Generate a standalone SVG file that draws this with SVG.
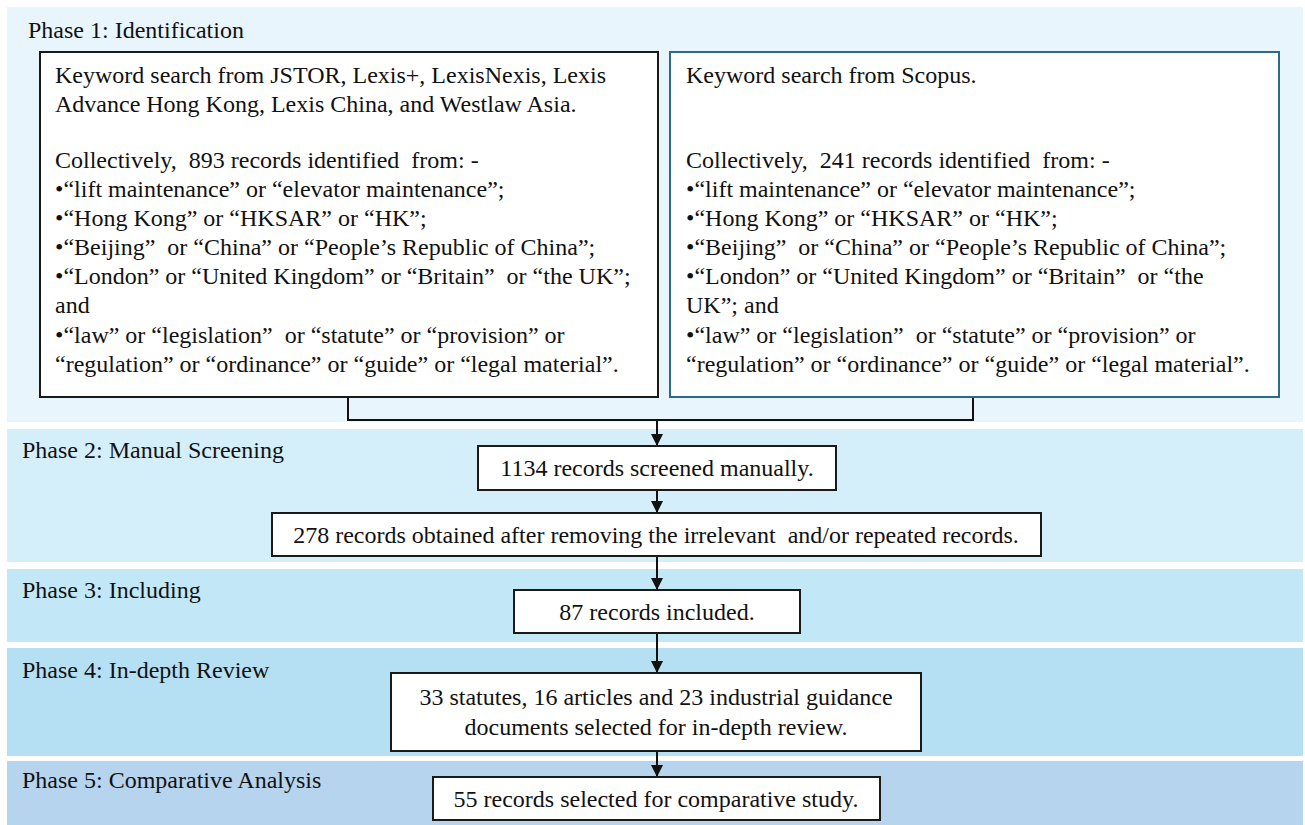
<svg xmlns="http://www.w3.org/2000/svg" width="1305" height="825" viewBox="0 0 1305 825">
  <style>
    text { font-family: "Liberation Serif", "DejaVu Serif", "Noto Serif", serif; font-size: 24px; fill: #111; white-space: pre; }
    .mid { text-anchor: middle; }
    .box { fill: #ffffff; stroke: #1a1a1a; stroke-width: 2; }
    .box-teal { fill: #ffffff; stroke: #2b6a88; stroke-width: 2; }
    .conn { fill: none; stroke: #111; stroke-width: 2; }
  </style>
  <defs>
    <marker id="arrow" viewBox="0 0 10 10" refX="10" refY="5" markerWidth="6.5" markerHeight="6" orient="auto" markerUnits="strokeWidth">
      <path d="M0,0 L10,5 L0,10 Z" fill="#111"/>
    </marker>
  </defs>

  <rect width="1305" height="825" fill="#ffffff"/>

  <!-- phase bands -->
  <g id="bands">
    <rect x="7" y="7" width="1296" height="415" fill="#e8f5fc"/>
    <rect x="7" y="429" width="1296" height="133" fill="#d4effa"/>
    <rect x="7" y="569" width="1296" height="73" fill="#c2e8f8"/>
    <rect x="7" y="648" width="1296" height="108" fill="#b5dff2"/>
    <rect x="7" y="761" width="1296" height="64" fill="#b7d4ee"/>
    <text x="28" y="38">Phase 1: Identification</text>
    <text x="22" y="458">Phase 2: Manual Screening</text>
    <text x="22" y="598">Phase 3: Including</text>
    <text x="22" y="678">Phase 4: In-depth Review</text>
    <text x="22" y="788">Phase 5: Comparative Analysis</text>
  </g>

  <!-- connectors -->
  <g id="connectors">
    <polyline class="conn" points="348,397 348,420 973,420 973,397"/>
    <line class="conn" x1="657" y1="420" x2="657" y2="446" marker-end="url(#arrow)"/>
    <line class="conn" x1="657" y1="490" x2="657" y2="513" marker-end="url(#arrow)"/>
    <line class="conn" x1="657" y1="556" x2="657" y2="590" marker-end="url(#arrow)"/>
    <line class="conn" x1="657" y1="633" x2="657" y2="673" marker-end="url(#arrow)"/>
    <line class="conn" x1="657" y1="751" x2="657" y2="777" marker-end="url(#arrow)"/>
  </g>

  <!-- legal databases search -->
  <g id="search-legal">
    <rect class="box" x="40" y="52" width="618" height="345"/>
    <text x="55" y="83">Keyword search from JSTOR, Lexis+, LexisNexis, Lexis</text>
    <text x="55" y="112">Advance Hong Kong, Lexis China, and Westlaw Asia.</text>
    <text x="55" y="168">Collectively,  893 records identified  from: -</text>
    <text x="55" y="197">•“lift maintenance” or “elevator maintenance”;</text>
    <text x="55" y="226">•“Hong Kong” or “HKSAR” or “HK”;</text>
    <text x="55" y="255">•“Beijing”  or “China” or “People’s Republic of China”;</text>
    <text x="55" y="284">•“London” or “United Kingdom” or “Britain”  or “the UK”;</text>
    <text x="55" y="313">and</text>
    <text x="55" y="343">•“law” or “legislation”  or “statute” or “provision” or</text>
    <text x="55" y="372">“regulation” or “ordinance” or “guide” or “legal material”.</text>
  </g>

  <!-- Scopus search -->
  <g id="search-scopus">
    <rect class="box-teal" x="670" y="52" width="609" height="345"/>
    <text x="686" y="83">Keyword search from Scopus.</text>
    <text x="686" y="168">Collectively,  241 records identified  from: -</text>
    <text x="686" y="197">•“lift maintenance” or “elevator maintenance”;</text>
    <text x="686" y="226">•“Hong Kong” or “HKSAR” or “HK”;</text>
    <text x="686" y="255">•“Beijing”  or “China” or “People’s Republic of China”;</text>
    <text x="686" y="284">•“London” or “United Kingdom” or “Britain”  or “the</text>
    <text x="686" y="313">UK”; and</text>
    <text x="686" y="343">•“law” or “legislation”  or “statute” or “provision” or</text>
    <text x="686" y="372">“regulation” or “ordinance” or “guide” or “legal material”.</text>
  </g>

  <g id="screened">
    <rect class="box" x="478" y="446" width="358" height="44"/>
    <text class="mid" x="657" y="476">1134 records screened manually.</text>
  </g>

  <g id="obtained">
    <rect class="box" x="272" y="513" width="769" height="43"/>
    <text class="mid" x="656" y="543">278 records obtained after removing the irrelevant  and/or repeated records.</text>
  </g>

  <g id="included">
    <rect class="box" x="514" y="590" width="286" height="43"/>
    <text class="mid" x="657" y="620">87 records included.</text>
  </g>

  <g id="review">
    <rect class="box" x="391" y="673" width="530" height="78"/>
    <text class="mid" x="656" y="705">33 statutes, 16 articles and 23 industrial guidance</text>
    <text class="mid" x="656" y="735">documents selected for in-depth review.</text>
  </g>

  <g id="comparative">
    <rect class="box" x="433" y="777" width="447" height="43"/>
    <text class="mid" x="656" y="807">55 records selected for comparative study.</text>
  </g>
</svg>
